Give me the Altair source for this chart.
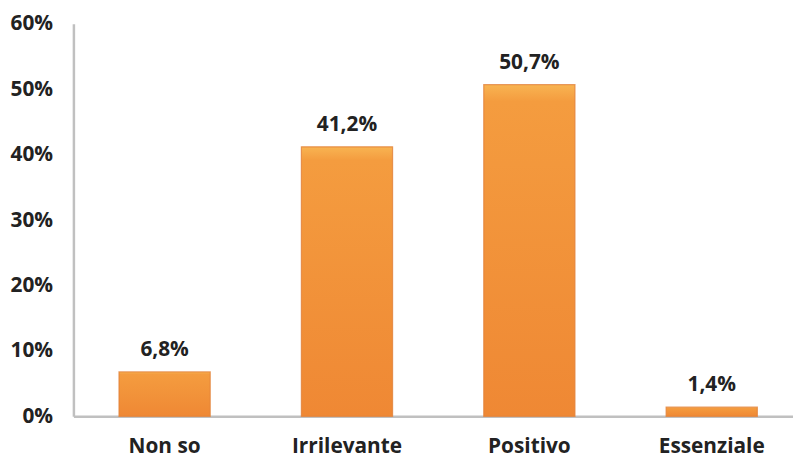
import altair as alt
import pandas as pd

categories = ["Non so", "Irrilevante", "Positivo", "Essenziale"]
values = [0.068, 0.412, 0.507, 0.014]

df = pd.DataFrame({"cat": categories, "val": values})
df["label"] = [f"{v*100:.1f}".replace(".", ",") + "%" for v in values]

FONT = "Open Sans"
FS = 21

x = alt.X("cat:N", sort=categories, title=None,
          scale=alt.Scale(paddingInner=0.5, paddingOuter=0.2228, align=0.561),
          axis=alt.Axis(labelAngle=0, labelFont=FONT, labelFontSize=FS, labelFontWeight="bold",
                        labelColor="#222222", ticks=False, domainColor="#c0c0c0", domainWidth=2.5,
                        labelPadding=19))
y = alt.Y("val:Q", title=None,
          scale=alt.Scale(domain=[0, 0.6]),
          axis=alt.Axis(format=".0%", values=[0, 0.1, 0.2, 0.3, 0.4, 0.5, 0.6], grid=False,
                        ticks=False, labelFont=FONT, labelFontSize=FS, labelFontWeight="bold",
                        labelColor="#222222", domainColor="#c0c0c0", domainWidth=2.5, labelPadding=21))

base = alt.Chart(df).encode(x=x, y=y)

bars = base.mark_bar(
    stroke="#e2823a", strokeWidth=1.2, strokeOpacity=0.8,
    color=alt.Gradient(gradient="linear", x1=0, x2=0, y1=0, y2=1,
                       stops=[alt.GradientStop(offset=0, color="#f8b452"),
                              alt.GradientStop(offset=0.05, color="#f49c3f"),
                              alt.GradientStop(offset=1, color="#ef8834")])
)

text = base.mark_text(
    baseline="alphabetic", dy=-16, font=FONT, fontSize=FS, fontWeight="bold", color="#222222"
).encode(text="label:N")

chart = (bars + text).properties(
    width=726, height=396,
    autosize=alt.AutoSizeParams(type="none"),
    padding={"left": 66, "top": 14, "right": 0, "bottom": 40},
).configure_view(stroke=None)

chart.save("out.html", embed_options={"renderer": "svg", "actions": False})
